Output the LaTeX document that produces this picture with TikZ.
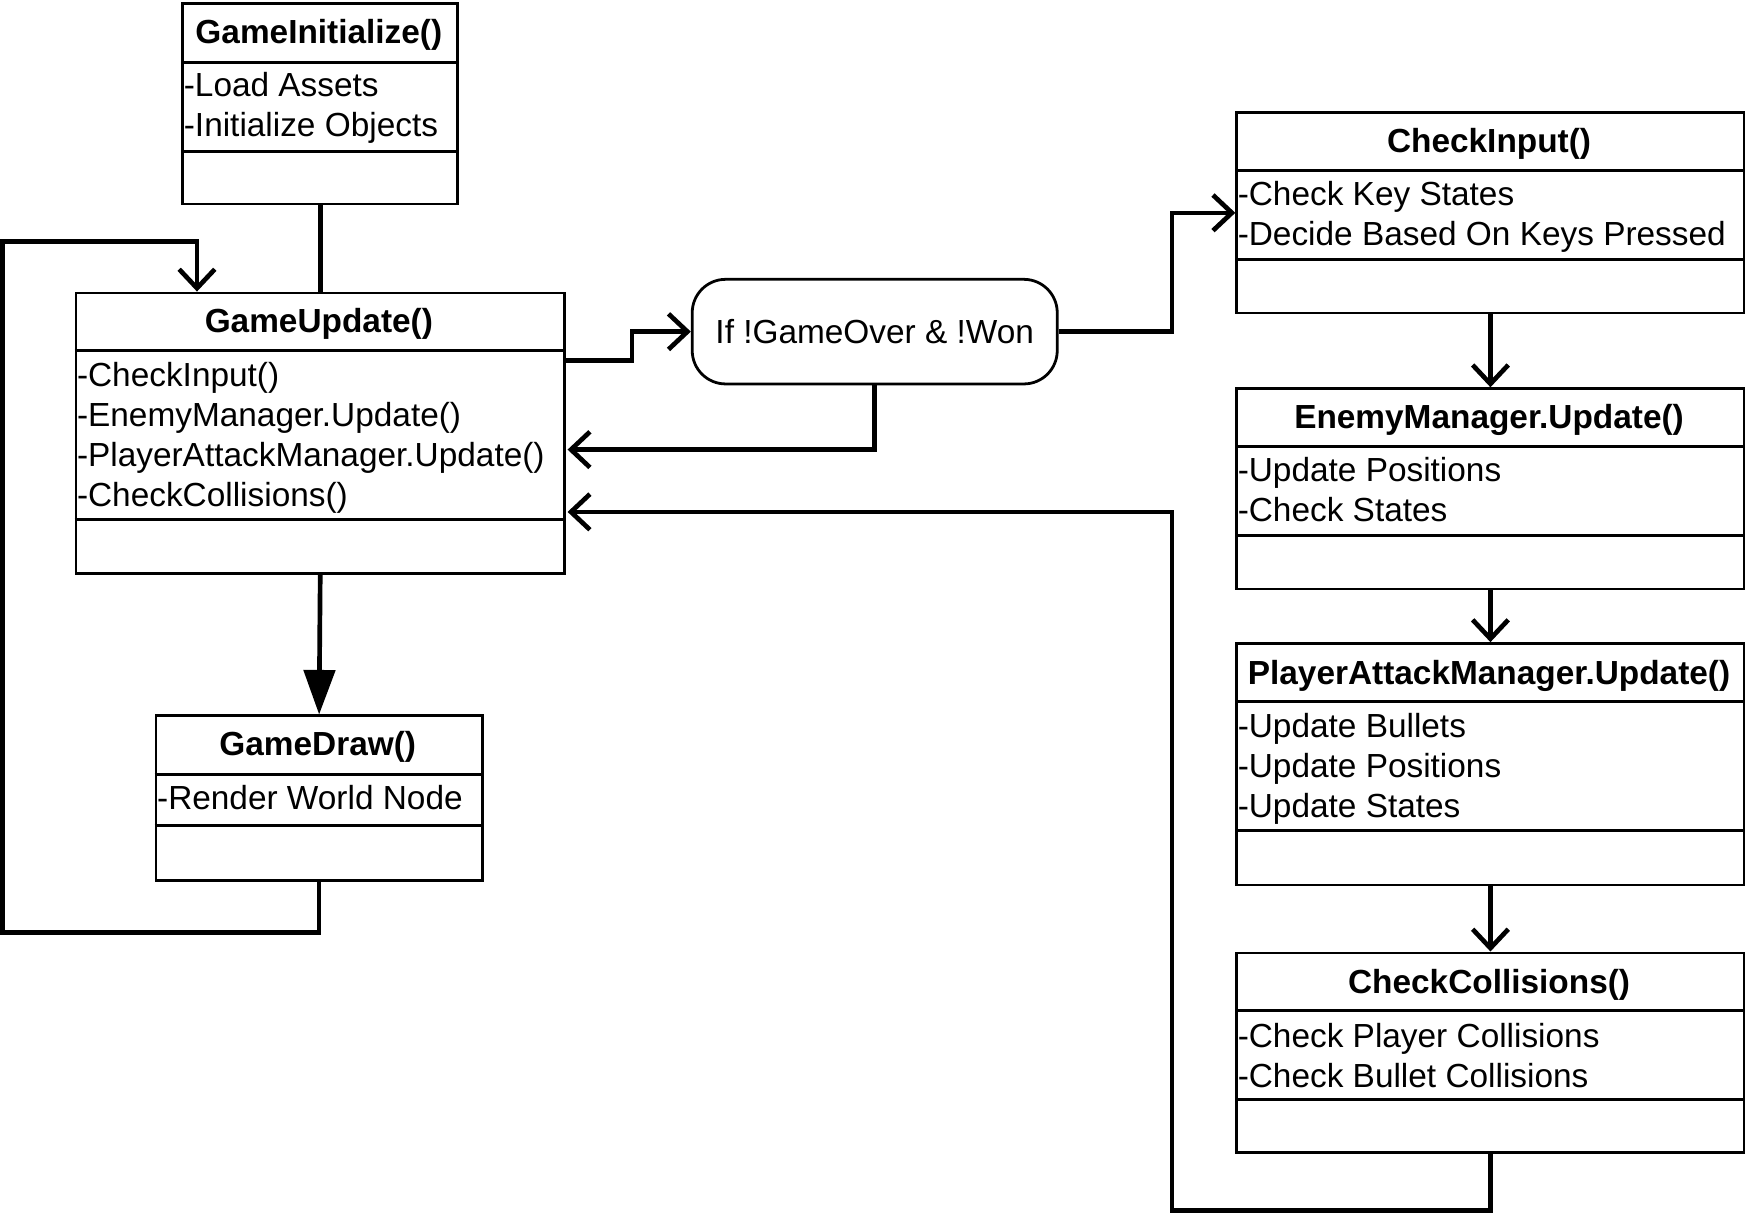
\documentclass[tikz,border=0pt]{standalone}
\usepackage{fontspec}
\setmainfont{Liberation Sans}
\usetikzlibrary{arrows.meta}
\begin{document}
\begin{tikzpicture}[x=1pt,y=-1pt,
  font=\fontsize{30}{36}\selectfont,
  umlbox/.style={draw, line width=2.5pt, inner sep=0pt, anchor=north west},
  sepline/.style={line width=2.5pt},
  ttl/.style={font=\fontsize{30}{36}\selectfont\bfseries, anchor=base, inner sep=0pt},
  itm/.style={anchor=base west, inner sep=0pt},
  conn/.style={line width=4.2pt},
  oarr/.style={conn, -{Straight Barb[length=17pt,width=32pt]}},
  farr/.style={conn, -{Triangle[length=40pt,width=28pt]}},
  decision/.style={draw, line width=2.5pt, rounded corners=30pt, minimum width=328pt, minimum height=94pt, inner sep=0pt}
]
\useasboundingbox (0,0) rectangle (1568,1091);

% GameInitialize
\node[umlbox, minimum width=247pt, minimum height=180pt] (gi) at (163,2) {};
\draw[sepline] (163,56) -- (410,56);
\draw[sepline] (163,136) -- (410,136);
\node[ttl] (gi-t) at (286.5,39) {GameInitialize()};
\node[itm] (gi-1) at (165,87) {-Load Assets};
\node[itm] (gi-2) at (165,123) {-Initialize Objects};

% GameUpdate
\node[umlbox, minimum width=439pt, minimum height=252pt] (gu) at (67,262) {};
\draw[sepline] (67,315) -- (506,315);
\draw[sepline] (67,467) -- (506,467);
\node[ttl] (gu-t) at (286.5,299) {GameUpdate()};
\node[itm] (gu-1) at (69,347) {-CheckInput()};
\node[itm] (gu-2) at (69,383) {-EnemyManager.Update()};
\node[itm] (gu-3) at (69,419) {-PlayerAttackManager.Update()};
\node[itm] (gu-4) at (69,455) {-CheckCollisions()};

% GameDraw
\node[umlbox, minimum width=293pt, minimum height=148pt] (gd) at (139,642) {};
\draw[sepline] (139,696) -- (432,696);
\draw[sepline] (139,742) -- (432,742);
\node[ttl] (gd-t) at (285.5,679) {GameDraw()};
\node[itm] (gd-1) at (141,727) {-Render World Node};

% Decision
\node[decision] (dec) at (786,298) {If !GameOver \& !Won};

% CheckInput
\node[umlbox, minimum width=456pt, minimum height=180pt] (ci) at (1110,100) {};
\draw[sepline] (1110,153) -- (1566,153);
\draw[sepline] (1110,233) -- (1566,233);
\node[ttl] (ci-t) at (1338,137) {CheckInput()};
\node[itm] (ci-1) at (1112,185) {-Check Key States};
\node[itm] (ci-2) at (1112,221) {-Decide Based On Keys Pressed};

% EnemyManager
\node[umlbox, minimum width=456pt, minimum height=180pt] (em) at (1110,348) {};
\draw[sepline] (1110,401) -- (1566,401);
\draw[sepline] (1110,481) -- (1566,481);
\node[ttl] (em-t) at (1338,385) {EnemyManager.Update()};
\node[itm] (em-1) at (1112,433) {-Update Positions};
\node[itm] (em-2) at (1112,469) {-Check States};

% PlayerAttackManager
\node[umlbox, minimum width=456pt, minimum height=217pt] (pam) at (1110,577) {};
\draw[sepline] (1110,630) -- (1566,630);
\draw[sepline] (1110,746) -- (1566,746);
\node[ttl] (pam-t) at (1338,615) {PlayerAttackManager.Update()};
\node[itm] (pam-1) at (1112,663) {-Update Bullets};
\node[itm] (pam-2) at (1112,699) {-Update Positions};
\node[itm] (pam-3) at (1112,735) {-Update States};

% CheckCollisions
\node[umlbox, minimum width=456pt, minimum height=179pt] (cc) at (1110,855) {};
\draw[sepline] (1110,908) -- (1566,908);
\draw[sepline] (1110,988) -- (1566,988);
\node[ttl] (cc-t) at (1338,893) {CheckCollisions()};
\node[itm] (cc-1) at (1112,941) {-Check Player Collisions};
\node[itm] (cc-2) at (1112,977) {-Check Bullet Collisions};

% connectors
\coordinate (guout) at (506,324);
\coordinate (guin1) at (510,404);
\coordinate (guin2) at (510,460);
\coordinate (gutop) at (177,262);

\draw[conn] (gi.south) -- (gu.north);
\draw[oarr] (guout) -- (568,324) |- (dec.west);
\draw[oarr] (dec.south) |- (guin1);
\draw[oarr] (dec.east) -- (1053,298) |- (ci.west);
\draw[oarr] (ci.south) -- (em.north);
\draw[oarr] (em.south) -- (pam.north);
\draw[oarr] (pam.south) -- (cc.north);
\draw[oarr] (cc.south) |- (1053,1088) -- (1053,460) -- (guin2);
\draw[farr] (gu.south) -- (gd.north);
\draw[oarr] (gd.south) |- (2,838) -- (2,217) -| (gutop);
\end{tikzpicture}
\end{document}
